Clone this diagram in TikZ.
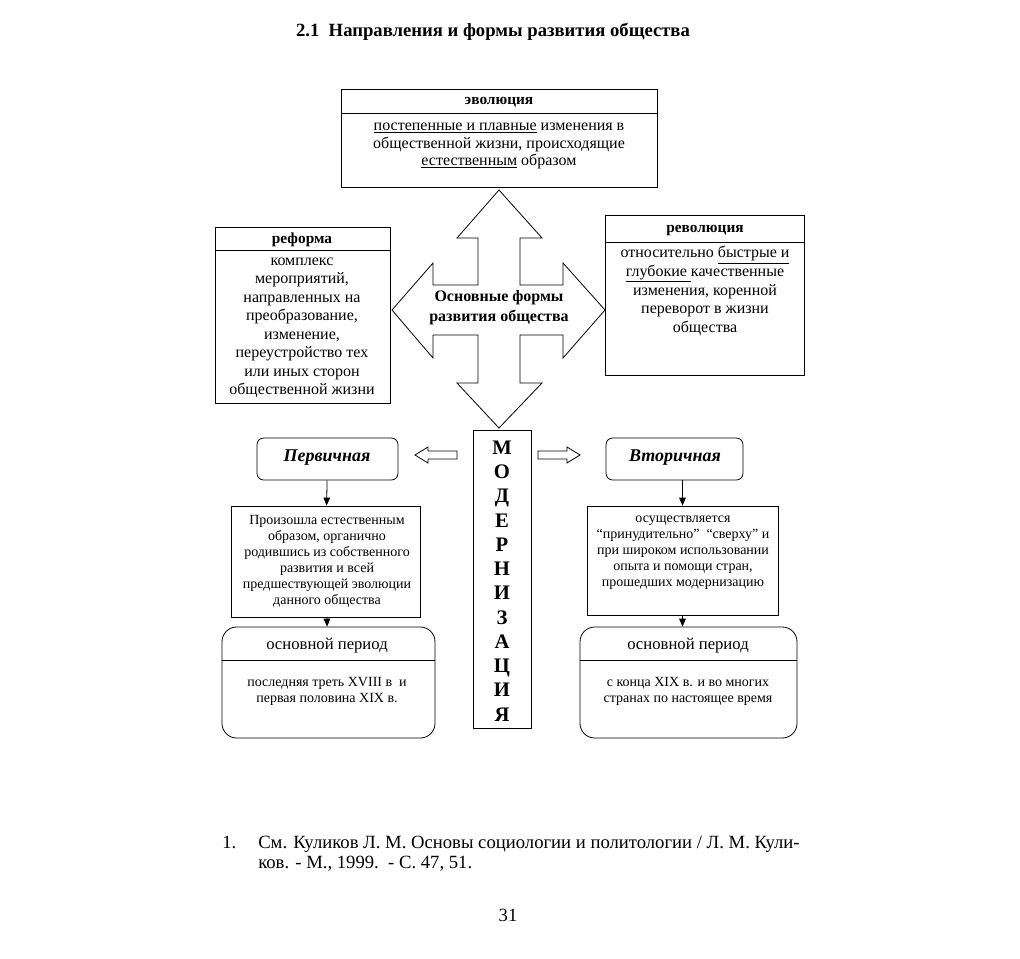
\documentclass[tikz,border=0pt]{standalone}
\usepackage{fontspec}
\setmainfont{Liberation Serif}
\usetikzlibrary{arrows.meta,fit}
\begin{document}
\begin{tikzpicture}[x=0.75pt,y=-0.75pt,
 frame/.style={draw, line width=0.6pt, inner sep=0pt},
 rframe/.style={frame, rounded corners=11pt},
 sframe/.style={frame, rounded corners=5pt},
 hdr/.style={font=\fontsize{11.5}{13}\selectfont\bfseries, inner sep=0pt},
 body/.style={align=center, inner sep=0pt, font=\fontsize{12}{13.2}\selectfont},
 small/.style={align=center, inner sep=0pt, font=\fontsize{10.5}{12}\selectfont},
 period/.style={inner sep=0pt, font=\fontsize{12.5}{14}\selectfont},
 kind/.style={inner sep=0pt, font=\fontsize{13.5}{15}\selectfont\bfseries\itshape},
 arr/.style={-{Triangle[length=6pt,width=5pt]}, line width=0.6pt},
 fn/.style={inner sep=0pt, anchor=base west, font=\fontsize{14}{16}\selectfont}]
\useasboundingbox[fill=white] (0,0) rectangle (1020,958);

% title
\node[font=\fontsize{14}{16}\selectfont\bfseries, inner sep=0pt] (title) at (493,32) {2.1\enspace Направления и формы развития общества};

% evolution
\node[frame, fit={(341,89)(657,187)}] (evo) {};
\draw[line width=0.6pt] (evo.west |- 0,113) -- (evo.east |- 0,113);
\node[hdr] (evoH) at (499,102) {эволюция};
\node[body] (evoB) at (499,146) {\underline{постепенные и плавные} изменения в\\общественной жизни, происходящие\\\underline{естественным} образом};

% reform
\node[frame, fit={(215,227)(390,403)}] (ref) {};
\draw[line width=0.6pt] (ref.west |- 0,250) -- (ref.east |- 0,250);
\node[hdr] (refH) at (302,240) {реформа};
\node[body, font=\fontsize{12}{13.9}\selectfont] (refB) at (302,328) {комплекс\\мероприятий,\\направленных на\\преобразование,\\изменение,\\переустройство тех\\или иных сторон\\общественной жизни};

% revolution
\node[frame, fit={(605,215)(804,375)}] (rev) {};
\draw[line width=0.6pt] (rev.west |- 0,242) -- (rev.east |- 0,242);
\node[hdr] (revH) at (705,231) {революция};
\node[body, font=\fontsize{12}{14}\selectfont] (revB) at (705,291) {относительно \underline{быстрые и}\\\underline{глубокие }качественные\\изменения, коренной\\переворот в жизни\\общества};

% cross arrow
\draw[line width=0.6pt] (499,190) -- (542,238) -- (520,238) -- (520,285) -- (563,285) -- (563,263)
 -- (605,310) -- (563,358) -- (563,335) -- (520,335) -- (520,383) -- (542,383) -- (499,428)
 -- (457,383) -- (478,383) -- (478,335) -- (433,335) -- (433,358) -- (392,310) -- (433,263)
 -- (433,285) -- (478,285) -- (478,238) -- (457,238) -- cycle;
\node[align=center, inner sep=0pt, font=\fontsize{12}{15}\selectfont\bfseries] (forms) at (499,308) {Основные формы\\развития общества};

% modernization
\node[frame, fit={(473,430)(531,728)}] (mod) {};
\node[align=center, inner sep=0pt, font=\fontsize{15.5}{18.2}\selectfont\bfseries] (modT) at (502,581) {М\\О\\Д\\Е\\Р\\Н\\И\\З\\А\\Ц\\И\\Я};

% small hollow arrows
\draw[line width=0.6pt] (415,455) -- (428,447) -- (428,451) -- (457,451) -- (457,459) -- (428,459) -- (428,463) -- cycle;
\draw[line width=0.6pt] (580,455) -- (567,447) -- (567,451) -- (538,451) -- (538,459) -- (567,459) -- (567,463) -- cycle;

% primary branch
\node[sframe, fit={(257,438)(398,480)}] (prim) {};
\node[kind] (primL) at (327,458) {Первичная};
\node[frame, fit={(231,506)(420,617)}] (primT) {};
\node[small] (primB) at (327,561) {Произошла естественным\\образом, органично\\родившись из собственного\\развития и всей\\предшествующей эволюции\\данного общества};
\node[rframe, fit={(222,627)(435,738)}] (primP) {};
\draw[line width=0.6pt] (primP.west |- 0,660) -- (primP.east |- 0,660);
\node[period] (primPH) at (327,646) {основной период};
\node[small] (primPB) at (327,691) {последняя треть XVIII в\ \ и\\первая половина XIX в.};
\draw[arr] (prim) -- (primT);
\draw[arr] (primT) -- (primP);

% secondary branch
\node[sframe, fit={(606,438)(743,480)}] (sec) {};
\node[kind] (secL) at (675,458) {Вторичная};
\node[frame, fit={(587,506)(778,615)}] (secT) {};
\node[small] (secB) at (683,553) {осуществляется\\“принудительно”\ \ “сверху” и\\при широком использовании\\опыта и помощи стран,\\прошедших модернизацию};
\node[rframe, fit={(580,627)(797,738)}] (secP) {};
\draw[line width=0.6pt] (secP.west |- 0,660) -- (secP.east |- 0,660);
\node[period] (secPH) at (688,646) {основной период};
\node[small] (secPB) at (688,691) {с конца XIX в. и во многих\\странах по настоящее время};
\draw[arr] (sec.south -| secT.north) -- (secT.north);
\draw[arr] (secT.south) -- (secT.south |- secP.north);

% footnote
\node[fn] (fnN) at (222,848) {1.};
\node[fn] (fnA) at (258,848) {См. Куликов Л. М. Основы социологии и политологии / Л. М. Кули-};
\node[fn] (fnB) at (258,868) {ков. - М., 1999.\ \ - С. 47, 51.};
\node[inner sep=0pt, font=\fontsize{14}{16}\selectfont] (page) at (508,915) {31};
\end{tikzpicture}
\end{document}
